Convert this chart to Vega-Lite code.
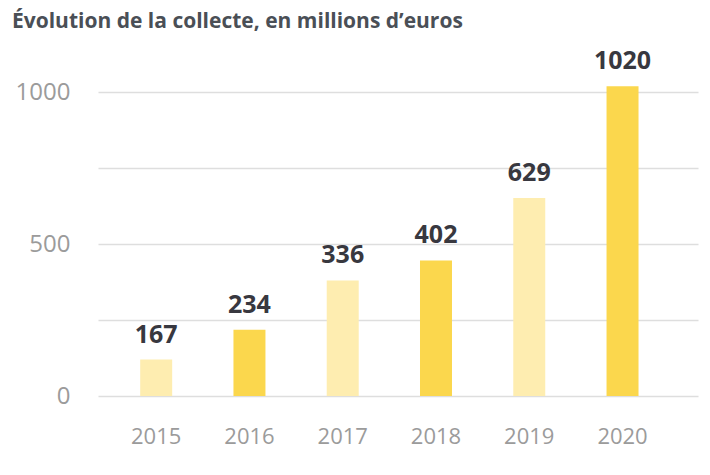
{
  "$schema": "https://vega.github.io/schema/vega-lite/v6.json",
  "autosize": "none",
  "width": 600,
  "height": 304,
  "padding": {"left": 98, "top": 92, "right": 12, "bottom": 79},
  "background": "white",
  "title": {
    "text": "Évolution de la collecte, en millions d’euros",
    "anchor": "start",
    "frame": "group",
    "dx": -86,
    "offset": 17,
    "font": "Open Sans",
    "fontSize": 21,
    "fontWeight": "bold",
    "color": "#4a4f56"
  },
  "data": {
    "values": [
      {"annee": "2015", "hauteur": 120, "collecte": 167},
      {"annee": "2016", "hauteur": 218, "collecte": 234},
      {"annee": "2017", "hauteur": 380, "collecte": 336},
      {"annee": "2018", "hauteur": 446, "collecte": 402},
      {"annee": "2019", "hauteur": 651, "collecte": 629},
      {"annee": "2020", "hauteur": 1019, "collecte": 1020}
    ]
  },
  "config": {"view": {"stroke": null}},
  "encoding": {
    "x": {
      "field": "annee",
      "type": "ordinal",
      "title": null,
      "scale": {"paddingInner": 0.657, "paddingOuter": 0.545, "align": 0.415},
      "axis": {
        "domain": false,
        "ticks": false,
        "labelAngle": 0,
        "labelFont": "Open Sans",
        "labelFontSize": 22,
        "labelColor": "#9b9b9b",
        "labelPadding": 30
      }
    },
    "y": {
      "field": "hauteur",
      "type": "quantitative",
      "title": null,
      "scale": {"domain": [0, 1000], "nice": false},
      "axis": {
        "values": [0, 250, 500, 750, 1000],
        "format": "d",
        "labelExpr": "datum.value % 500 === 0 ? datum.label : ''",
        "domain": false,
        "ticks": false,
        "gridColor": "#dedede",
        "gridWidth": 1.5,
        "labelFont": "Open Sans",
        "labelFontSize": 24,
        "labelColor": "#9b9b9b",
        "labelPadding": 28
      }
    }
  },
  "layer": [
    {
      "mark": {"type": "bar"},
      "encoding": {
        "color": {
          "condition": {"test": "datum.annee % 2 == 0", "value": "#fbd74d"},
          "value": "#feedb0"
        }
      }
    },
    {
      "mark": {
        "type": "text",
        "baseline": "alphabetic",
        "dy": -17,
        "font": "Open Sans",
        "fontSize": 25,
        "fontWeight": "bold",
        "color": "#38383f"
      },
      "encoding": {"text": {"field": "collecte", "type": "quantitative"}}
    }
  ]
}
